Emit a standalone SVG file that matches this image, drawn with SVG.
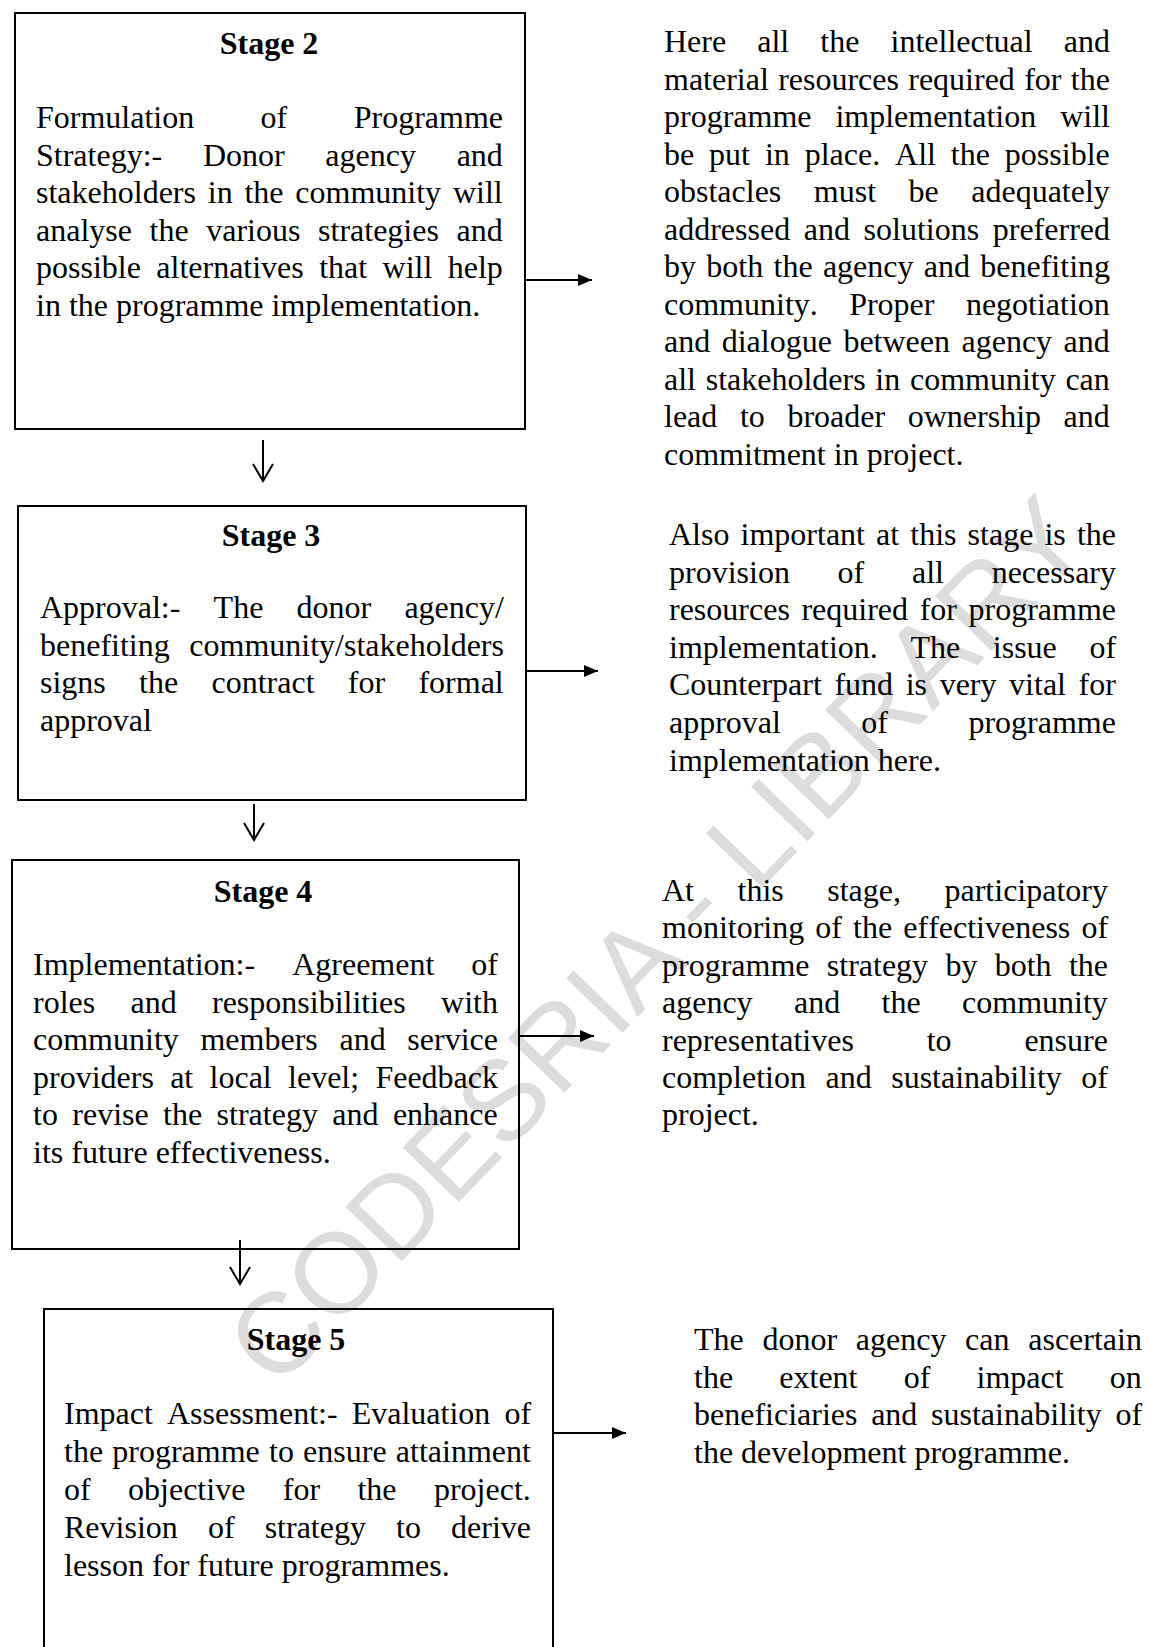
<svg xmlns="http://www.w3.org/2000/svg" width="1149" height="1647" viewBox="0 0 1149 1647">
<style>
.box{fill:none;stroke:#000;stroke-width:2}
.b{font-family:"Liberation Serif","Times New Roman",serif;font-size:32px;fill:#000;font-kerning:none;font-variant-ligatures:none}
.t{font-family:"Liberation Serif","Times New Roman",serif;font-size:32px;font-weight:bold;fill:#000;text-anchor:middle;font-kerning:none}
.wm{font-family:"Liberation Sans",Arial,sans-serif;font-size:114px;fill:#dcdcdc;text-anchor:middle}
.c{fill:none;stroke:#000;stroke-width:2}
</style>
<defs>
<marker id="ah" markerUnits="userSpaceOnUse" markerWidth="14" markerHeight="12" refX="14" refY="6" orient="auto">
<path d="M0,0 L14,6 L0,12 z" fill="#000"/>
</marker>
</defs>
<rect width="1149" height="1647" fill="#fff"/>
<text class="wm" transform="translate(685,968) rotate(-46)">CODESRIA - LIBRARY</text>

<g id="stage2">
<rect class="box" x="15" y="13" width="510" height="416"/>
<text class="t" x="269" y="54">Stage 2</text>
<text class="b" x="36" y="128" style="word-spacing:58.4px">Formulation of Programme</text>
<text class="b" x="36" y="165.5" style="word-spacing:32.7px">Strategy:- Donor agency and</text>
<text class="b" x="36" y="203" style="word-spacing:3.8px">stakeholders in the community will</text>
<text class="b" x="36" y="240.5" style="word-spacing:9.6px">analyse the various strategies and</text>
<text class="b" x="36" y="278" style="word-spacing:7.4px">possible alternatives that will help</text>
<text class="b" x="36" y="315.5">in the programme implementation.</text>
</g>

<g id="note2">
<text class="b" x="664" y="52" style="word-spacing:23.1px">Here all the intellectual and</text>
<text class="b" x="664" y="89.5" style="word-spacing:1.3px">material resources required for the</text>
<text class="b" x="664" y="127" style="word-spacing:15.9px">programme implementation will</text>
<text class="b" x="664" y="164.5" style="word-spacing:6.9px">be put in place. All the possible</text>
<text class="b" x="664" y="202" style="word-spacing:24.5px">obstacles must be adequately</text>
<text class="b" x="664" y="239.5" style="word-spacing:5.6px">addressed and solutions preferred</text>
<text class="b" x="664" y="277" style="word-spacing:2.3px">by both the agency and benefiting</text>
<text class="b" x="664" y="314.5" style="word-spacing:23.4px">community. Proper negotiation</text>
<text class="b" x="664" y="352" style="word-spacing:3.5px">and dialogue between agency and</text>
<text class="b" x="664" y="389.5" style="word-spacing:1.7px">all stakeholders in community can</text>
<text class="b" x="664" y="427" style="word-spacing:14.6px">lead to broader ownership and</text>
<text class="b" x="664" y="464.5">commitment in project.</text>
</g>

<g id="stage3">
<rect class="box" x="18" y="506" width="508" height="294"/>
<text class="t" x="271" y="546">Stage 3</text>
<text class="b" x="40" y="618" style="word-spacing:25.2px">Approval:- The donor agency/</text>
<text class="b" x="40" y="655.6" style="word-spacing:11.6px">benefiting community/stakeholders</text>
<text class="b" x="40" y="693.2" style="word-spacing:25.3px">signs the contract for formal</text>
<text class="b" x="40" y="730.8">approval</text>
</g>

<g id="note3">
<text class="b" x="669" y="545" style="word-spacing:3.1px">Also important at this stage is the</text>
<text class="b" x="669" y="582.6" style="word-spacing:39.7px">provision of all necessary</text>
<text class="b" x="669" y="620.2" style="word-spacing:3.6px">resources required for programme</text>
<text class="b" x="669" y="657.8" style="word-spacing:24.6px">implementation. The issue of</text>
<text class="b" x="669" y="695.4" style="word-spacing:4.6px">Counterpart fund is very vital for</text>
<text class="b" x="669" y="733" style="word-spacing:72.4px">approval of programme</text>
<text class="b" x="669" y="770.6">implementation here.</text>
</g>

<g id="stage4">
<rect class="box" x="12" y="860" width="507" height="389"/>
<text class="t" x="263" y="902">Stage 4</text>
<text class="b" x="33" y="975" style="word-spacing:29px">Implementation:- Agreement of</text>
<text class="b" x="33" y="1012.5" style="word-spacing:27.3px">roles and responsibilities with</text>
<text class="b" x="33" y="1050" style="word-spacing:13.7px">community members and service</text>
<text class="b" x="33" y="1087.5" style="word-spacing:8.3px">providers at local level; Feedback</text>
<text class="b" x="33" y="1125" style="word-spacing:6.4px">to revise the strategy and enhance</text>
<text class="b" x="33" y="1162.5">its future effectiveness.</text>
</g>

<g id="note4">
<text class="b" x="662" y="901" style="word-spacing:35.5px">At this stage, participatory</text>
<text class="b" x="662" y="938.4" style="word-spacing:3.1px">monitoring of the effectiveness of</text>
<text class="b" x="662" y="975.8" style="word-spacing:9.3px">programme strategy by both the</text>
<text class="b" x="662" y="1013.2" style="word-spacing:33.4px">agency and the community</text>
<text class="b" x="662" y="1050.6" style="word-spacing:64.8px">representatives to ensure</text>
<text class="b" x="662" y="1088" style="word-spacing:11.5px">completion and sustainability of</text>
<text class="b" x="662" y="1125.4">project.</text>
</g>

<g id="stage5">
<rect class="box" x="44" y="1309" width="509" height="360"/>
<text class="t" x="296" y="1350">Stage 5</text>
<text class="b" x="64" y="1424" style="word-spacing:6.1px">Impact Assessment:- Evaluation of</text>
<text class="b" x="64" y="1462" style="word-spacing:1.2px">the programme to ensure attainment</text>
<text class="b" x="64" y="1500" style="word-spacing:29.4px">of objective for the project.</text>
<text class="b" x="64" y="1538" style="word-spacing:22.1px">Revision of strategy to derive</text>
<text class="b" x="64" y="1576">lesson for future programmes.</text>
</g>

<g id="note5">
<text class="b" x="694" y="1350" style="word-spacing:10.7px">The donor agency can ascertain</text>
<text class="b" x="694" y="1387.7" style="word-spacing:38.2px">the extent of impact on</text>
<text class="b" x="694" y="1425.4" style="word-spacing:5.7px">beneficiaries and sustainability of</text>
<text class="b" x="694" y="1463.1">the development programme.</text>
</g>

<g id="connectors">
<line class="c" x1="525" y1="280" x2="592" y2="280" marker-end="url(#ah)"/>
<line class="c" x1="526" y1="671" x2="598" y2="671" marker-end="url(#ah)"/>
<line class="c" x1="519" y1="1036" x2="594" y2="1036" marker-end="url(#ah)"/>
<line class="c" x1="553" y1="1433" x2="626" y2="1433" marker-end="url(#ah)"/>
<path class="c" d="M263,440 V481 M253,464 L263,481 L273,464"/>
<path class="c" d="M254,804 V840 M244,823 L254,840 L264,823"/>
<path class="c" d="M240,1240 V1284 M230,1267 L240,1284 L250,1267"/>
</g>
</svg>
